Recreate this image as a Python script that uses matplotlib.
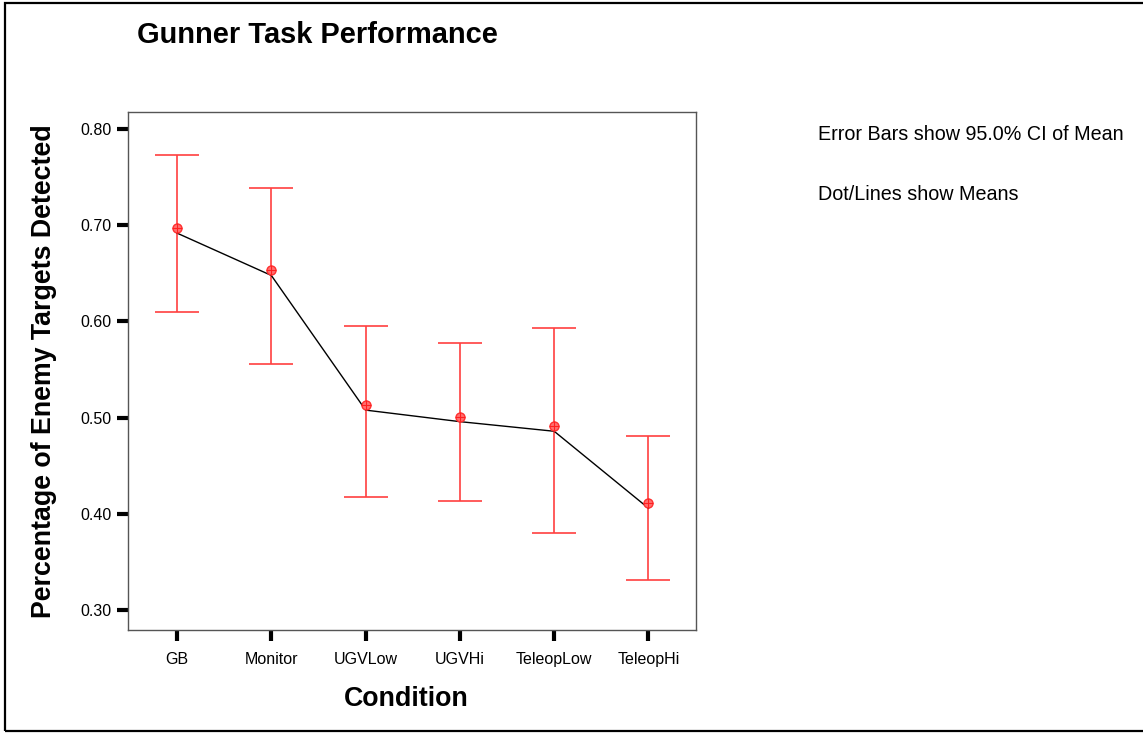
import matplotlib
matplotlib.use("Agg")
import matplotlib.pyplot as plt
import matplotlib.transforms as mtransforms
from matplotlib.patches import Rectangle

plt.rcParams['font.family'] = ['Liberation Sans', 'DejaVu Sans']

categories = ["GB", "Monitor", "UGVLow", "UGVHi", "TeleopLow", "TeleopHi"]
means = [0.697, 0.653, 0.513, 0.501, 0.491, 0.411]
ci_upper = [0.773, 0.739, 0.595, 0.578, 0.593, 0.481]
ci_lower = [0.610, 0.556, 0.417, 0.413, 0.380, 0.331]
yticks = [0.30, 0.40, 0.50, 0.60, 0.70, 0.80]

W, H = 1143, 733
fig = plt.figure(figsize=(W / 100, H / 100), dpi=100)

# axes box in pixels: left 128, right 696, top 112, bottom 630
ax = fig.add_axes([128 / W, 1 - 630 / H, (696 - 128) / W, (630 - 112) / H])

x = list(range(len(categories)))
err_low = [m - l for m, l in zip(means, ci_lower)]
err_high = [u - m for m, u in zip(means, ci_upper)]

ax.errorbar(x, means, yerr=[err_low, err_high], fmt='none', ecolor='#ff4040',
            elinewidth=1.2, capsize=15.5, capthick=1.2, zorder=2)

# SPSS draws the mean line slightly below the dots
off = mtransforms.offset_copy(ax.transData, fig=fig, x=0, y=-5, units='dots')
ax.plot(x, means, color='black', linewidth=1.0, transform=off, zorder=3)
ax.plot(x, means, linestyle='none', marker='o', markersize=6.5,
        markerfacecolor='#ff7070', markeredgecolor='#ff3030', markeredgewidth=1.0, zorder=4)
ax.plot(x, means, linestyle='none', marker='+', markersize=6.5,
        color='#ff2020', markeredgewidth=0.8, zorder=5)

ax.set_xlim(-0.52, 5.504)
ax.set_ylim(0.2792, 0.8177)
ax.set_xticks(x)
ax.set_xticklabels(categories)
ax.set_yticks(yticks)
ax.set_yticklabels([f"{v:.2f}" for v in yticks])
ax.tick_params(axis='both', direction='out', length=8, width=3, labelsize=11.5, color='black')
ax.tick_params(axis='x', pad=8)
ax.tick_params(axis='y', pad=4)
for s in ax.spines.values():
    s.set_color('#555555')
    s.set_linewidth(1.0)

fig.text(137 / W, 1 - 35 / H, "Gunner Task Performance", fontsize=20.9, fontweight='bold',
         ha='left', va='center')
fig.text(406 / W, 1 - 699 / H, "Condition", fontsize=19.3, fontweight='bold',
         ha='center', va='center')
fig.text(44 / W, 1 - 371 / H, "Percentage of Enemy Targets Detected", fontsize=19.3,
         fontweight='bold', rotation=90, ha='center', va='center')
fig.text(818 / W, 1 - 135 / H, "Error Bars show 95.0% CI of Mean", fontsize=14.2,
         ha='left', va='center')
fig.text(818 / W, 1 - 195 / H, "Dot/Lines show Means", fontsize=14.2,
         ha='left', va='center')

# outer frame (right edge falls outside the image, as in the reference)
fig.patches.append(Rectangle((5 / W, 1 - 731 / H), (1150 - 5) / W, (731 - 3) / H,
                             transform=fig.transFigure, fill=False, edgecolor='black',
                             linewidth=1.6, clip_on=False))

fig.savefig("out.png", dpi=100)
